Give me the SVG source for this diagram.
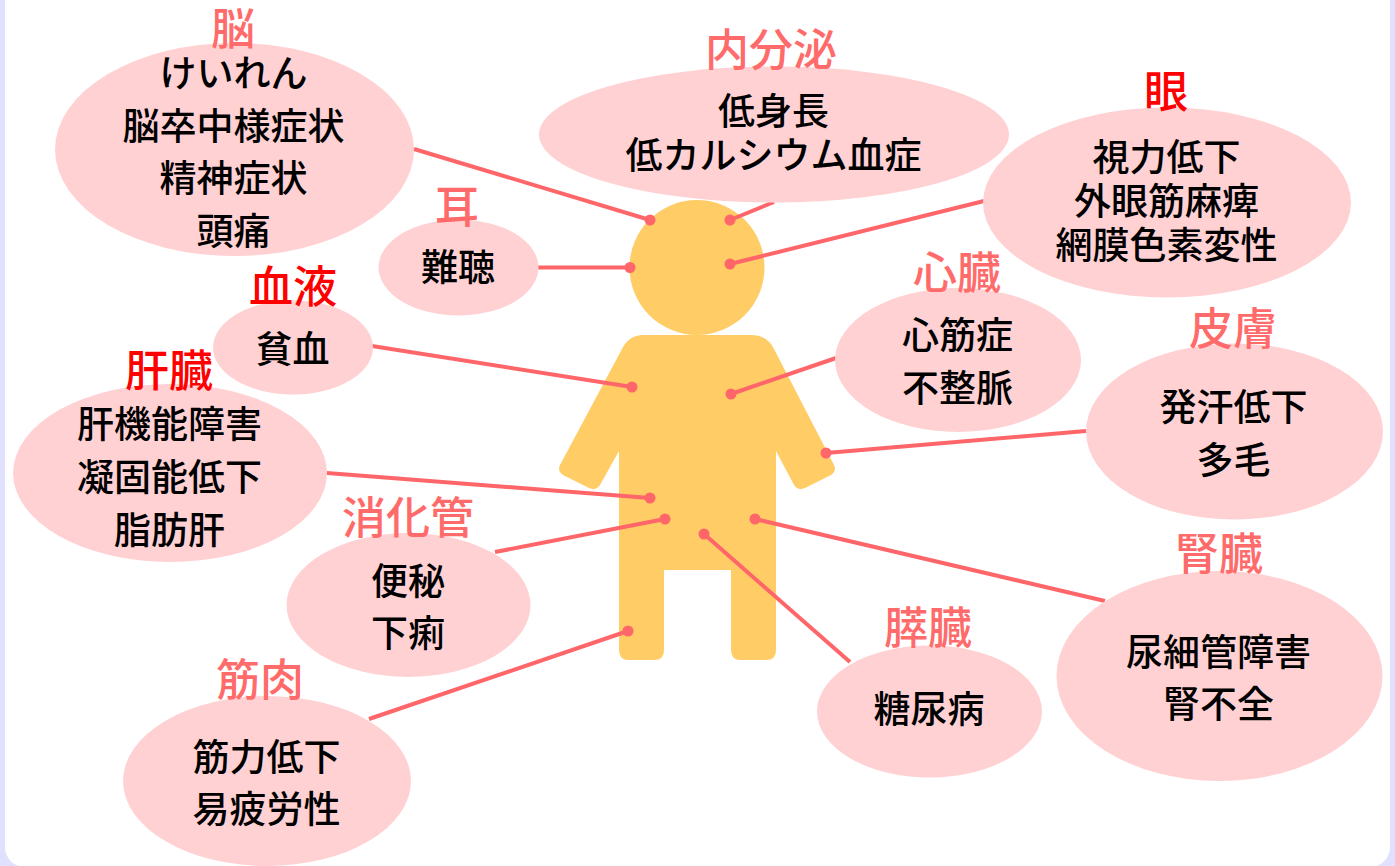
<svg xmlns="http://www.w3.org/2000/svg" width="1395" height="866" viewBox="0 0 1395 866">
<style>
.e{fill:#FFD1D3}
.t{font-family:"Noto Sans CJK JP","Noto Sans",sans-serif;text-anchor:middle;font-size:37px;fill:#000;font-weight:500}
.h{font-family:"Noto Sans CJK JP","Noto Sans",sans-serif;text-anchor:middle;font-size:44px;fill:#FF6B6B;font-weight:500}
.r{fill:#FF0000}
.c line{stroke:#FF666A;stroke-width:4}
.c circle{fill:#FF666A}
</style>
<rect width="1395" height="866" fill="#E0E0FF"/>
<rect x="5" y="-20" width="1385" height="887" rx="20" fill="#fff"/>
<g id="body" fill="#FFCC66">
<circle cx="697" cy="267.500" r="67.500"/>
<path d="M643 335H751Q767 335 774 349L834 465Q837 471 831 475L805 488Q798 491 794 485L776 451V650Q776 660 766 660H741Q731 660 731 650V570H664V650Q664 660 654 660H629Q619 660 619 650V451L600 485Q596 491 589 488L563 475Q557 471 560 465L622 349Q629 335 643 335Z"/>
</g>
<g id="connectors" class="c">
<line x1="414" y1="149" x2="650" y2="220"/><circle cx="650" cy="220" r="5.500"/>
<line x1="774" y1="202" x2="730" y2="220"/><circle cx="730" cy="220" r="5.500"/>
<line x1="984" y1="201" x2="730" y2="264"/><circle cx="730" cy="264" r="5.500"/>
<line x1="538" y1="267.500" x2="630" y2="267.500"/><circle cx="630" cy="267.500" r="5.500"/>
<line x1="372" y1="346" x2="632" y2="387"/><circle cx="632" cy="387" r="5.500"/>
<line x1="836" y1="358" x2="731" y2="394"/><circle cx="731" cy="394" r="5.500"/>
<line x1="1086" y1="431" x2="826" y2="453"/><circle cx="826" cy="453" r="5.500"/>
<line x1="327" y1="473" x2="650" y2="498"/><circle cx="650" cy="498" r="5.500"/>
<line x1="495" y1="552" x2="665" y2="519"/><circle cx="665" cy="519" r="5.500"/>
<line x1="1105" y1="601" x2="755" y2="519"/><circle cx="755" cy="519" r="5.500"/>
<line x1="850" y1="662" x2="704" y2="534"/><circle cx="704" cy="534" r="5.500"/>
<line x1="369" y1="719" x2="628" y2="631"/><circle cx="628" cy="631" r="5.500"/>
</g>
<g id="brain"><ellipse class="e" cx="234.500" cy="149.500" rx="179.500" ry="106.500"/><text class="h" x="233" y="45">脳</text><text class="t" x="233.500" y="87">けいれん</text><text class="t" x="233.500" y="140">脳卒中様症状</text><text class="t" x="233.500" y="192">精神症状</text><text class="t" x="233.500" y="245">頭痛</text></g>
<g id="endocrine"><ellipse class="e" cx="774" cy="134.500" rx="235" ry="68"/><text class="h" x="771" y="66">内分泌</text><text class="t" x="773.500" y="125">低身長</text><text class="t" x="773.500" y="169">低カルシウム血症</text></g>
<g id="eye"><ellipse class="e" cx="1167" cy="202.500" rx="184" ry="95"/><text class="h r" x="1166" y="108">眼</text><text class="t" x="1166.500" y="171">視力低下</text><text class="t" x="1166.500" y="215">外眼筋麻痺</text><text class="t" x="1166.500" y="259">網膜色素変性</text></g>
<g id="ear"><ellipse class="e" cx="458.500" cy="267.500" rx="80" ry="48"/><text class="h" x="457" y="223">耳</text><text class="t" x="458" y="281">難聴</text></g>
<g id="blood"><ellipse class="e" cx="293" cy="347.500" rx="80" ry="47"/><text class="h r" x="293" y="303">血液</text><text class="t" x="292.500" y="363">貧血</text></g>
<g id="heart"><ellipse class="e" cx="958" cy="360" rx="123" ry="72"/><text class="h" x="957" y="289">心臓</text><text class="t" x="957.500" y="349">心筋症</text><text class="t" x="957.500" y="402">不整脈</text></g>
<g id="skin"><ellipse class="e" cx="1234.500" cy="431.500" rx="148.500" ry="88"/><text class="h" x="1233" y="345">皮膚</text><text class="t" x="1233.500" y="421">発汗低下</text><text class="t" x="1233.500" y="474">多毛</text></g>
<g id="liver"><ellipse class="e" cx="170" cy="473" rx="157" ry="89"/><text class="h r" x="169" y="387">肝臓</text><text class="t" x="169.500" y="438">肝機能障害</text><text class="t" x="169.500" y="491">凝固能低下</text><text class="t" x="169.500" y="544">脂肪肝</text></g>
<g id="digestive"><ellipse class="e" cx="408.500" cy="605" rx="122" ry="72"/><text class="h" x="408" y="534">消化管</text><text class="t" x="408" y="595">便秘</text><text class="t" x="408" y="647">下痢</text></g>
<g id="muscle"><ellipse class="e" cx="267" cy="781" rx="144" ry="85"/><text class="h" x="260" y="696">筋肉</text><text class="t" x="266.500" y="771">筋力低下</text><text class="t" x="266.500" y="823">易疲労性</text></g>
<g id="pancreas"><ellipse class="e" cx="929.500" cy="711.500" rx="112.500" ry="66"/><text class="h" x="928" y="644">膵臓</text><text class="t" x="929" y="723">糖尿病</text></g>
<g id="kidney"><ellipse class="e" cx="1219.500" cy="676" rx="163" ry="105"/><text class="h" x="1219" y="570">腎臓</text><text class="t" x="1218.500" y="666">尿細管障害</text><text class="t" x="1218.500" y="718">腎不全</text></g>
</svg>
